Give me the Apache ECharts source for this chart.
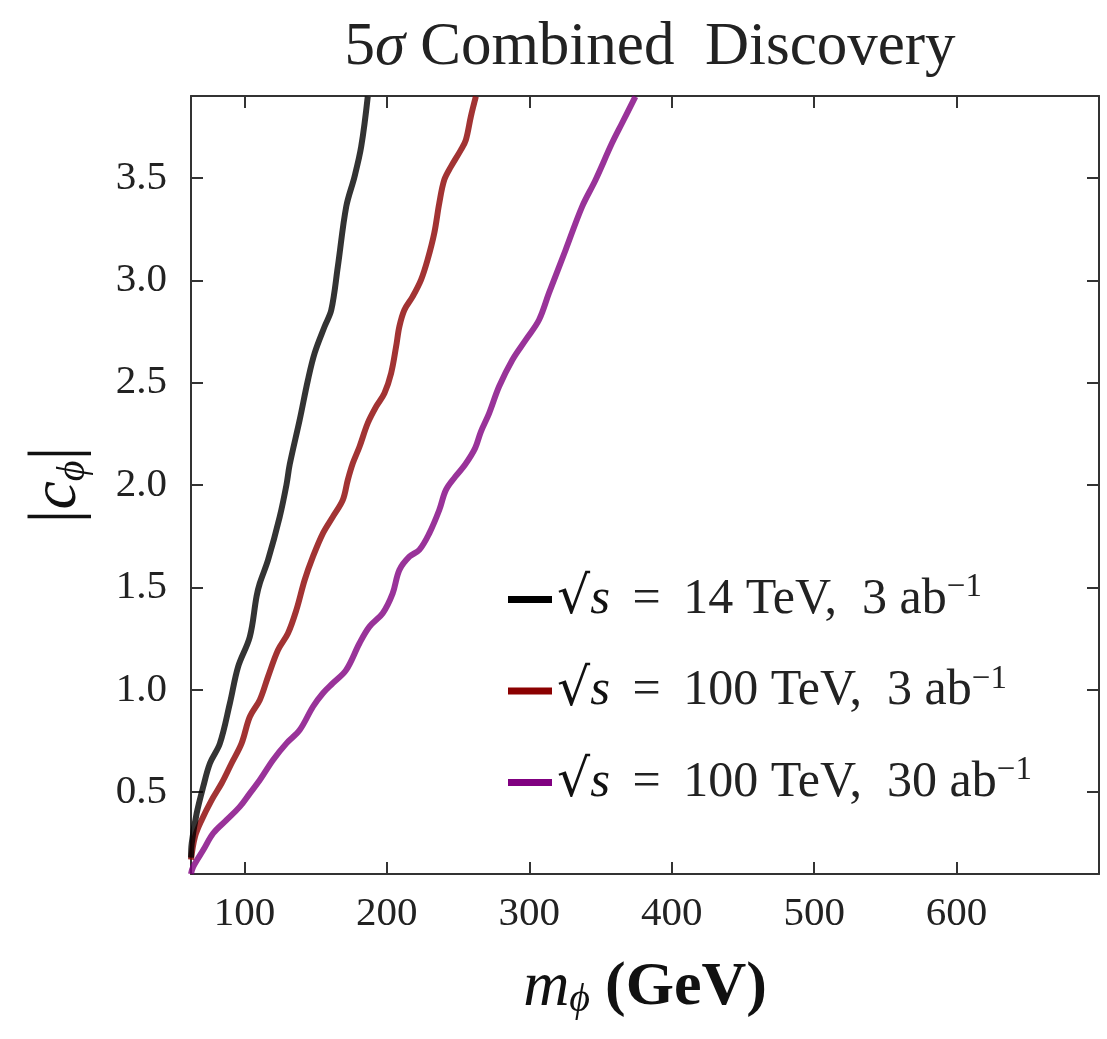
<!DOCTYPE html>
<html>
<head>
<meta charset="utf-8">
<script src="https://cdn.jsdelivr.net/npm/echarts@6/dist/echarts.min.js"></script>
<style>html,body{margin:0;padding:0;background:#fff}#c{width:1107px;height:1039px}</style>
</head>
<body>
<div id="c"></div>
<script>
// ---- data ----
const xTicks = [100, 200, 300, 400, 500, 600];
const yTicks = [0.5, 1.0, 1.5, 2.0, 2.5, 3.0, 3.5];

const names = [
  "sqrt(s) = 14 TeV, 3 ab-1",
  "sqrt(s) = 100 TeV, 3 ab-1",
  "sqrt(s) = 100 TeV, 30 ab-1"
];

const black14_3 = [
  [62.5,0.18],[63,0.25],[66.5,0.397],[71.1,0.527],[75.8,0.641],[82.8,0.738],
  [89.8,0.934],[95.6,1.113],[103.8,1.259],[108.5,1.455],[110.8,1.52],[116.6,1.634],
  [124.8,1.845],[129.5,2.0],[131.8,2.1],[138.8,2.318],[144.6,2.513],[149.3,2.644],
  [156.3,2.774],[161,2.855],[165.6,3.067],[171.5,3.36],[177.3,3.506],[182,3.653],[186.6,3.897]
];
const red100_3 = [
  [62.5,0.17],[65.3,0.282],[70,0.364],[77,0.461],[84,0.543],[91,0.641],[98,0.738],
  [103.8,0.868],[110.8,0.95],[116.6,1.064],[123.6,1.194],[130.6,1.276],[136.5,1.39],
  [142.3,1.536],[148.1,1.65],[155.1,1.764],[162.1,1.845],[169.1,1.927],[172.6,2.025],
  [176.1,2.106],[180.8,2.187],[186.6,2.302],[192.5,2.383],[198.3,2.448],[203,2.546],
  [206.5,2.676],[208.8,2.774],[212.3,2.855],[218.1,2.92],[224,3.002],[228.6,3.1],
  [233.3,3.23],[236.8,3.376],[240.3,3.49],[245,3.555],[252,3.637],[255.5,3.686],
  [259,3.8],[262.5,3.897]
];
const purple100_30 = [
  [62.5,0.1],[64.1,0.136],[71.1,0.217],[78.1,0.299],[87.5,0.364],[96.8,0.429],
  [103.8,0.494],[110.8,0.559],[120.1,0.657],[129.5,0.738],[138.8,0.803],[148.1,0.917],
  [155.1,0.983],[162.1,1.032],[171.5,1.097],[180.8,1.227],[187.8,1.308],[197.1,1.374],
  [204.1,1.471],[208.8,1.585],[215.8,1.65],[222.8,1.683],[229.8,1.764],[236.8,1.878],
  [241.5,1.976],[248,2.04],[255,2.1],[262,2.18],[266,2.26],[271.8,2.35],[278.8,2.481],
  [288.1,2.611],[297.5,2.709],[306.8,2.806],[313.8,2.937],[325.5,3.148],[337.1,3.36],
  [346.5,3.49],[358.1,3.67],[365.1,3.767],[374.5,3.897]
];

const lineColors = ['#000000', '#8b0000', '#800080'];
const seriesData = [black14_3, red100_3, purple100_30];
const legendParts = [
  ['14 TeV,', '3'],
  ['100 TeV,', '3'],
  ['100 TeV,', '30']
];

// ---- chart ----
const FONT = '"Liberation Serif", "DejaVu Serif", serif';
const AX = '#333';
const chart = echarts.init(document.getElementById('c'), null, {renderer: 'canvas'});

function xAxisDef(pos, labels) {
  return {
    type: 'value', position: pos, min: 62.5, max: 700,
    axisLine: {show: true, onZero: false, lineStyle: {color: AX, width: 2}},
    axisTick: {show: true, inside: true, length: 12, customValues: xTicks, lineStyle: {color: AX, width: 2}},
    axisLabel: {show: labels, customValues: xTicks, margin: 20, fontFamily: FONT, fontSize: 41, color: '#222'},
    splitLine: {show: false}
  };
}
function yAxisDef(pos, labels) {
  return {
    type: 'value', position: pos, min: 0.1, max: 3.9,
    axisLine: {show: true, onZero: false, lineStyle: {color: AX, width: 2}},
    axisTick: {show: true, inside: true, length: 12, customValues: yTicks, lineStyle: {color: AX, width: 2}},
    axisLabel: {show: labels, customValues: yTicks, margin: 24, fontFamily: FONT, fontSize: 41, color: '#222',
      formatter: v => v.toFixed(1)},
    splitLine: {show: false}
  };
}

const xMain = xAxisDef('bottom', true);
xMain.name = '{i|m}{sub|ϕ}{t| }{b|(GeV)}';
xMain.nameLocation = 'middle';
xMain.nameGap = 82;
xMain.nameTextStyle = {
  fontFamily: FONT, fontSize: 60, color: '#111',
  rich: {
    i: {fontFamily: FONT, fontSize: 64, fontStyle: 'italic', color: '#111'},
    sub: {fontFamily: FONT, fontSize: 40, fontStyle: 'italic', color: '#111', verticalAlign: 'bottom', padding: [22, 0, 0, 0]},
    t: {fontFamily: FONT, fontSize: 60, color: '#111'},
    b: {fontFamily: FONT, fontSize: 62, fontWeight: 'bold', color: '#111'}
  }
};
const yMain = yAxisDef('left', true);
yMain.name = '{t||}{i|c}{sub|ϕ}{t||}';
yMain.nameLocation = 'middle';
yMain.nameGap = 98;
yMain.nameRotate = 90;
yMain.nameTextStyle = {
  fontFamily: FONT, fontSize: 62, color: '#111',
  rich: {
    i: {fontFamily: FONT, fontSize: 64, fontStyle: 'italic', color: '#111'},
    sub: {fontFamily: FONT, fontSize: 40, fontStyle: 'italic', color: '#111', verticalAlign: 'bottom', padding: [22, 0, 0, 0]},
    t: {fontFamily: FONT, fontSize: 70, color: '#111'}
  }
};

const option = {
  backgroundColor: '#ffffff',
  animation: false,
  title: {
    text: '{t|5}{i|σ}{t| Combined  Discovery}',
    left: 645, top: 12, textAlign: 'center',
    textStyle: {
      fontFamily: FONT, fontSize: 61, fontWeight: 'normal', color: '#222',
      rich: {
        t: {fontFamily: FONT, fontSize: 61, color: '#222'},
        i: {fontFamily: FONT, fontSize: 61, fontStyle: 'italic', color: '#222'}
      }
    }
  },
  grid: {left: 191, top: 96, right: 8, bottom: 165, containLabel: false},
  xAxis: [xMain, xAxisDef('top', false)],
  yAxis: [yMain, yAxisDef('right', false)],
  legend: {
    orient: 'vertical',
    left: 503, top: 566,
    itemWidth: 44, itemHeight: 7, itemGap: 37,
    icon: 'rect',
    data: names.map((n, i) => ({name: n, icon: 'rect', itemStyle: {color: lineColors[i], opacity: 1}})),
    formatter: function (name) {
      const i = names.indexOf(name);
      return '{r|√}{s|s}{t|\u2009 = \u2009' + legendParts[i][0] + '  ' + legendParts[i][1] + ' ab}{sup|−1}';
    },
    textStyle: {
      fontFamily: FONT, fontSize: 49, color: '#222',
      rich: {
        r: {fontFamily: '"DejaVu Serif", serif', fontSize: 52, color: '#111'},
        s: {fontFamily: FONT, fontSize: 51, fontStyle: 'italic', color: '#111'},
        t: {fontFamily: FONT, fontSize: 50, color: '#222'},
        sup: {fontFamily: FONT, fontSize: 33, color: '#222', verticalAlign: 'top', padding: [0, 0, 24, 0]}
      }
    }
  },
  series: seriesData.map((d, i) => ({
    name: names[i],
    type: 'line',
    data: d,
    xAxisIndex: 0, yAxisIndex: 0,
    showSymbol: false,
    smooth: 0.35,
    clip: true,
    color: lineColors[i],
    lineStyle: {width: 6, color: lineColors[i], opacity: 0.8},
    z: 3 - i
  }))
};
chart.setOption(option);
</script>
</body>
</html>
